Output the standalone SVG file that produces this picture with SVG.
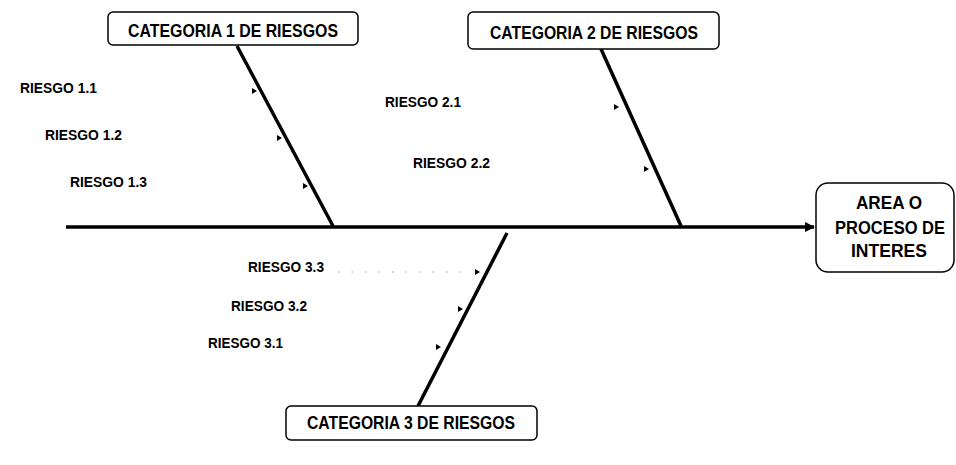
<svg xmlns="http://www.w3.org/2000/svg" width="956" height="465" viewBox="0 0 956 465">
<style>
.box{fill:#fff;stroke:#000;stroke-width:1.5}
.cat{font-family:"Liberation Sans",Arial,sans-serif;font-weight:bold;font-size:18px;text-anchor:middle;fill:#000}
.lbl{font-family:"Liberation Sans",Arial,sans-serif;font-weight:bold;font-size:14px;fill:#000}
.bone{stroke:#000;stroke-width:3.5;fill:none}
.tick{fill:#000}
</style>
<defs>
<marker id="arr" viewBox="0 0 10 10" refX="9" refY="5" markerWidth="3" markerHeight="3" orient="auto">
<path d="M0,0 L10,5 L0,10 z" fill="#000"/>
</marker>
</defs>
<g id="connectors">
<line class="bone" x1="66" y1="227" x2="814" y2="227" marker-end="url(#arr)"/>
<line class="bone" x1="237" y1="46" x2="333" y2="226"/>
<line class="bone" x1="601" y1="49" x2="681" y2="226"/>
<line class="bone" x1="507" y1="233" x2="418" y2="406"/>
<path class="tick" d="M252,88 L257,91 L252,94 z"/>
<path class="tick" d="M277,135 L282,138 L277,141 z"/>
<path class="tick" d="M303,183 L308,186 L303,189 z"/>
<path class="tick" d="M614,104 L619,107 L614,110 z"/>
<path class="tick" d="M644,166 L649,169 L644,172 z"/>
<path class="tick" d="M475,269 L480,272 L475,275 z"/>
<path class="tick" d="M458,306 L463,309 L458,312 z"/>
<path class="tick" d="M436,344 L441,347 L436,350 z"/>
<line x1="338" y1="272" x2="468" y2="272" stroke="#999" stroke-width="1" stroke-dasharray="1.5 12"/>
</g>
<g id="cat1">
<rect class="box" x="108" y="12" width="250" height="33" rx="5"/>
<text class="cat" x="233" y="37" textLength="210" lengthAdjust="spacingAndGlyphs">CATEGORIA 1 DE RIESGOS</text>
</g>
<g id="cat2">
<rect class="box" x="468" y="12" width="251" height="37" rx="5"/>
<text class="cat" x="594" y="39" textLength="208" lengthAdjust="spacingAndGlyphs">CATEGORIA 2 DE RIESGOS</text>
</g>
<g id="cat3">
<rect class="box" x="286" y="406" width="251" height="34" rx="5"/>
<text class="cat" x="411" y="429" textLength="208" lengthAdjust="spacingAndGlyphs">CATEGORIA 3 DE RIESGOS</text>
</g>
<g id="effect">
<rect class="box" x="816" y="183" width="138" height="89" rx="12"/>
<text class="cat" x="889" y="209" textLength="66" lengthAdjust="spacingAndGlyphs">AREA O</text>
<text class="cat" x="890" y="234" textLength="110" lengthAdjust="spacingAndGlyphs">PROCESO DE</text>
<text class="cat" x="889" y="257" textLength="76" lengthAdjust="spacingAndGlyphs">INTERES</text>
</g>
<g id="risks">
<text class="lbl" x="20" y="93" textLength="77" lengthAdjust="spacingAndGlyphs">RIESGO 1.1</text>
<text class="lbl" x="45" y="140" textLength="77" lengthAdjust="spacingAndGlyphs">RIESGO 1.2</text>
<text class="lbl" x="70" y="187" textLength="77" lengthAdjust="spacingAndGlyphs">RIESGO 1.3</text>
<text class="lbl" x="385" y="107" textLength="76" lengthAdjust="spacingAndGlyphs">RIESGO 2.1</text>
<text class="lbl" x="413" y="168" textLength="77" lengthAdjust="spacingAndGlyphs">RIESGO 2.2</text>
<text class="lbl" x="248" y="272" textLength="76" lengthAdjust="spacingAndGlyphs">RIESGO 3.3</text>
<text class="lbl" x="231" y="311" textLength="76" lengthAdjust="spacingAndGlyphs">RIESGO 3.2</text>
<text class="lbl" x="208" y="348" textLength="75" lengthAdjust="spacingAndGlyphs">RIESGO 3.1</text>
</g>
</svg>
